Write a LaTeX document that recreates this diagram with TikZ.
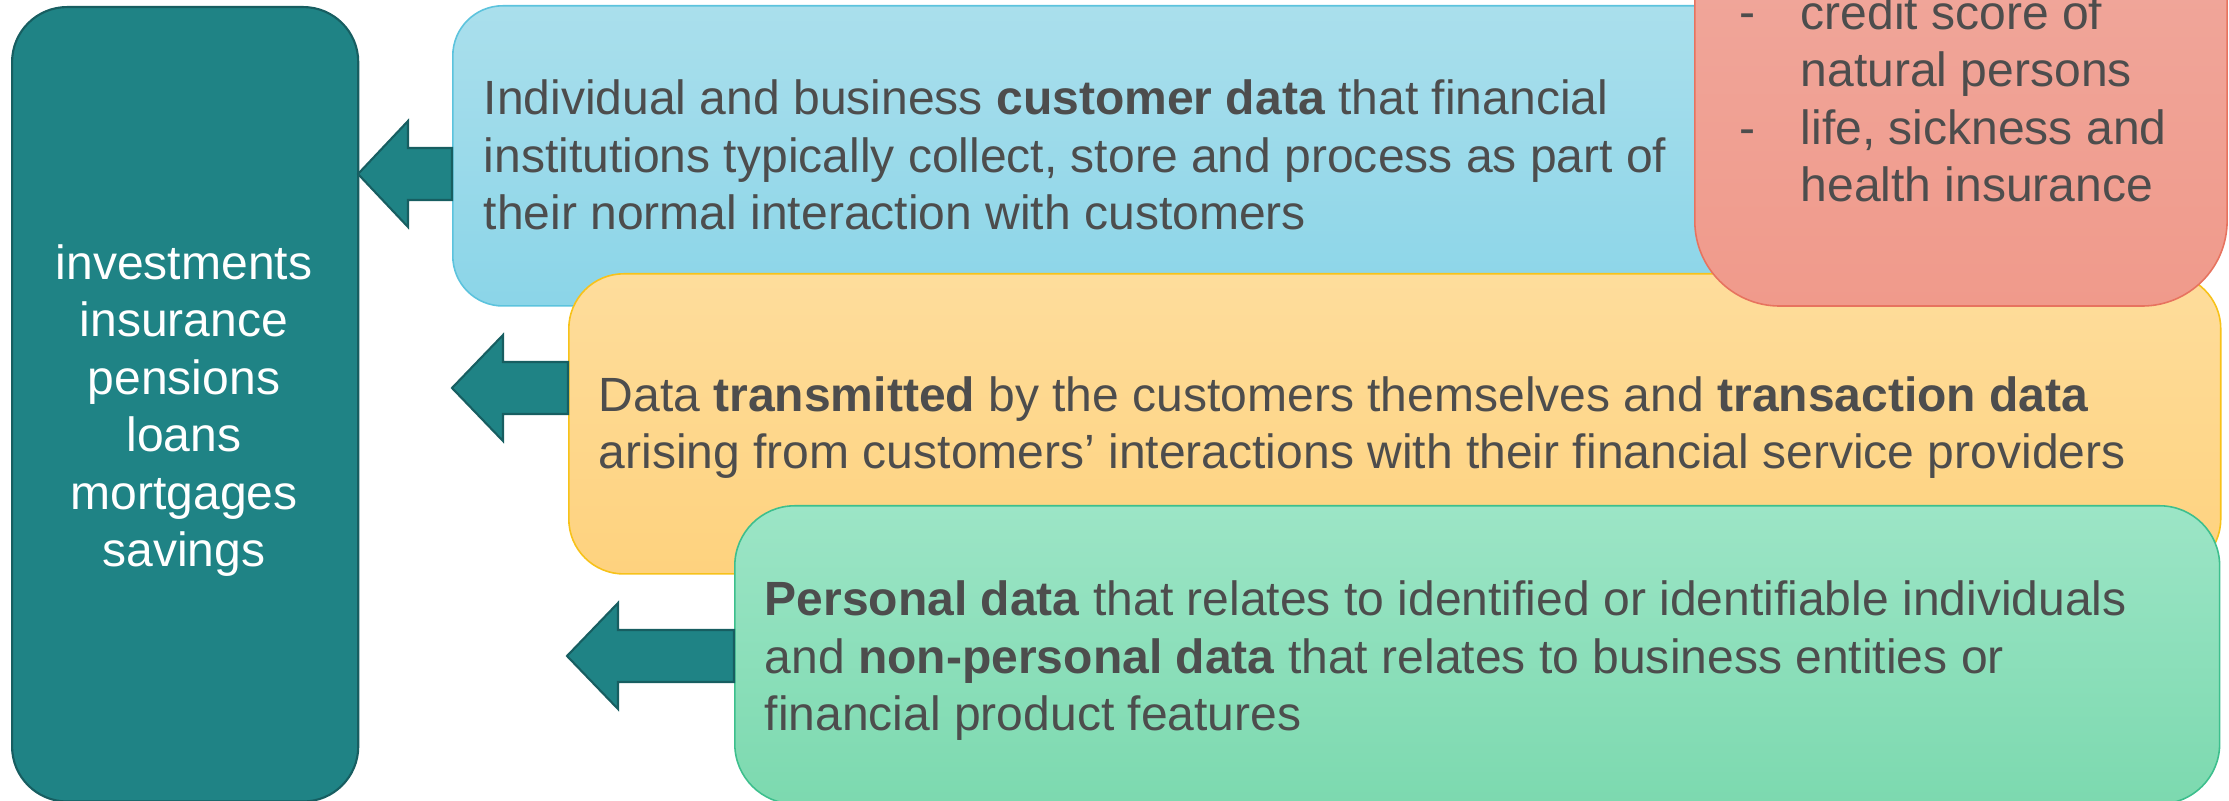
\documentclass[tikz,border=0pt]{standalone}
\usepackage{fontspec}
\setmainfont{Liberation Sans}
\usetikzlibrary{calc}
\definecolor{tealfill}{HTML}{1F8385}
\definecolor{tealline}{HTML}{175E61}
\definecolor{bluetop}{HTML}{AADFEC}
\definecolor{bluebot}{HTML}{8BD5E8}
\definecolor{blueline}{HTML}{5CC3DD}
\definecolor{orgtop}{HTML}{FEDD9C}
\definecolor{orgbot}{HTML}{FED27E}
\definecolor{orgline}{HTML}{F7C21A}
\definecolor{grntop}{HTML}{9CE5C6}
\definecolor{grnbot}{HTML}{7CD9AF}
\definecolor{grnline}{HTML}{3DBF8D}
\definecolor{redtop}{HTML}{F0A99E}
\definecolor{redbot}{HTML}{F09A8B}
\definecolor{redline}{HTML}{E7735F}
\definecolor{txt}{HTML}{4D4D4D}
\begin{document}
\begin{tikzpicture}[x=0.01cm,y=-0.01cm,
  box/.style={draw, line width=0.45pt, inner sep=0pt, anchor=north west},
  bodyfont/.style={font=\fontsize{13.66pt}{16.36pt}\selectfont},
  bodytext/.style={bodyfont, inner sep=0pt, anchor=base west, align=left, text=txt},
  blockarrow/.style={draw=tealline, fill=tealfill, line width=0.6pt, line join=miter}]
\useasboundingbox (0,0) rectangle (2229,801);
\clip (0,0) rectangle (2229,801);
% product box
\node[box, draw=tealline, fill=tealfill, line width=0.6pt, minimum width=3.46cm, minimum height=7.94cm, rounded corners=0.55cm] (prod) at (11,6) {};
% data boxes
\node[box, draw=blueline, top color=bluetop, bottom color=bluebot, minimum width=14.48cm, minimum height=3.0cm, rounded corners=0.5cm] (blue) at (452,5) {};
\node[box, draw=orgline, top color=orgtop, bottom color=orgbot, minimum width=16.51cm, minimum height=3.0cm, rounded corners=0.55cm] (orange) at (568,273) {};
\node[box, draw=redline, top color=redtop, bottom color=redbot, minimum width=5.32cm, minimum height=4.25cm, rounded corners=0.85cm] (red) at (1694,-120) {};
\node[box, draw=grnline, top color=grntop, bottom color=grnbot, minimum width=14.84cm, minimum height=2.98cm, rounded corners=0.6cm] (green) at (734,505) {};
% arrows
\coordinate (t1) at (358,174);
\coordinate (t2) at (452,388);
\coordinate (t3) at (567,656);
\draw[blockarrow] (t1) -- ++(50,-53) -- ++(0,27) -- ($(blue.west |- t1)+(0,-26)$) -- ($(blue.west |- t1)+(0,26)$) -- ($(t1)+(50,26)$) -- ($(t1)+(50,53)$) -- cycle;
\draw[blockarrow] (t2) -- ++(51,-53) -- ++(0,27) -- ($(orange.west |- t2)+(0,-26)$) -- ($(orange.west |- t2)+(0,26)$) -- ($(t2)+(51,26)$) -- ($(t2)+(51,53)$) -- cycle;
\draw[blockarrow] (t3) -- ++(51,-53) -- ++(0,27) -- ($(green.west |- t3)+(0,-26)$) -- ($(green.west |- t3)+(0,26)$) -- ($(t3)+(51,26)$) -- ($(t3)+(51,53)$) -- cycle;
% texts (multi-line nodes: base anchor = last line's baseline)
\node[bodyfont, inner sep=0pt, anchor=base, align=center, text=white] (prodtext) at (184,567) {investments\\insurance\\pensions\\loans\\mortgages\\savings};
\node[bodytext] (bluetext) at (483,230) {Individual and business \textbf{customer data} that financial\\institutions typically collect, store and process as part of\\their normal interaction with customers};
\node[bodytext] (orangetext) at (598,469) {Data \textbf{transmitted} by the customers themselves and \textbf{transaction data}\\arising from customers’ interactions with their financial service providers};
\node[bodytext] (greentext) at (764,731) {\textbf{Personal data} that relates to identified or identifiable individuals\\and \textbf{non-personal data} that relates to business entities or\\financial product features};
\node[bodytext] (dash1) at (1739,29) {-};
\node[bodytext] (dash2) at (1739,145) {-};
\node[bodytext] (redtext) at (1800,202) {credit score of\\natural persons\\life, sickness and\\health insurance};
\end{tikzpicture}
\end{document}
